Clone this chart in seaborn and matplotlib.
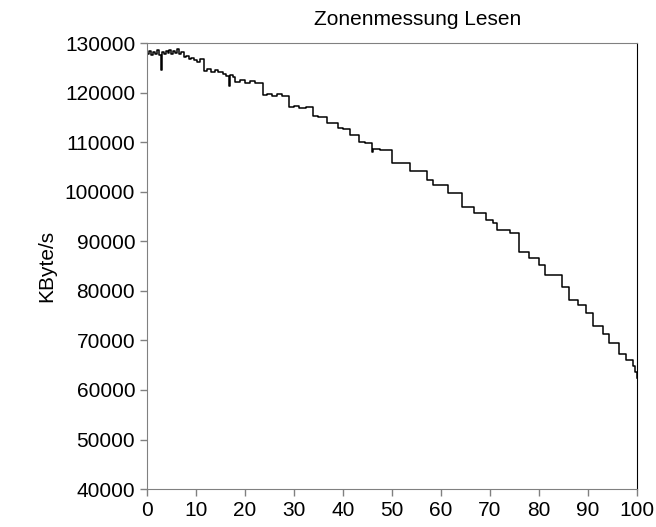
import matplotlib
matplotlib.use('Agg')
import matplotlib.pyplot as plt
import seaborn as sns
import pandas as pd

# Zone read measurement: position on disk (%) vs. read rate (KByte/s)
positions = [0.0, 0.4, 0.8, 1.2, 1.6, 2.0, 2.4, 2.8, 3.0, 3.4, 3.8, 4.2, 4.6, 5.0,
             5.4, 5.8, 6.2, 6.6, 7.0, 7.5, 8.0, 8.5, 9.0, 9.7, 10.2, 10.8, 11.7,
             12.3, 13.0, 13.8, 14.6, 15.5, 16.2, 16.7, 16.9, 17.5, 18.0, 19.0, 20.0,
             21.0, 22.0, 23.6, 24.5, 25.5, 26.5, 27.5, 28.9, 30.0, 31.0, 32.5,
             33.9, 35.0, 36.7, 38.9, 40.0, 41.4, 43.3, 44.5, 45.9, 46.1, 47.5, 50.0,
             53.7, 57.1, 58.4, 61.4, 64.3, 66.7, 69.2, 70.6, 71.4, 74.0, 75.9,
             78.0, 80.0, 81.2, 84.7, 86.1, 88.0, 89.6, 91.0, 93.0, 94.3, 96.3,
             97.7, 99.2, 99.6, 100.0]
kbytes = [127800, 128400, 127600, 128300, 127900, 128600, 127700, 124500, 128200,
          127800, 128500, 128000, 128700, 127900, 128400, 128100, 128800, 127800,
          128300, 127200, 127500, 126900, 127100, 126600, 126300, 126800, 124400,
          124800, 124200, 124600, 124100, 123700, 123400, 121300, 123600, 123200,
          122100, 122500, 121900, 122300, 121900, 119500, 119800, 119300, 119700,
          119300, 117100, 117400, 116900, 117200, 115300, 115100, 113800, 112800,
          112600, 111500, 110000, 109800, 108100, 108700, 108500, 105900, 104300,
          102400, 101400, 99700, 96900, 95800, 94300, 93800, 92200, 91600, 87900,
          86700, 85200, 83200, 80700, 78200, 77200, 75500, 72900, 71300, 69400,
          67300, 66100, 64800, 63600, 62500]

df = pd.DataFrame({'position': positions, 'kbytes': kbytes})

plt.rcParams['font.family'] = ['Liberation Sans', 'DejaVu Sans']
plt.rcParams['font.size'] = 15

fig = plt.figure(figsize=(6.56, 5.27), dpi=100)
ax = fig.add_axes([0.224, 0.072, 0.747, 0.846])
sns.lineplot(x='position', y='kbytes', data=df, drawstyle='steps-post',
             color='black', linewidth=1.1, ax=ax)

ax.set_xlim(0, 100)
ax.set_ylim(40000, 130000)
ax.set_xticks(range(0, 101, 10))
ax.set_yticks(range(40000, 130001, 10000))
ax.set_title('Zonenmessung Lesen', fontsize=15, x=0.553, pad=13)
ax.set_xlabel('')
ax.set_ylabel('KByte/s', fontsize=15, labelpad=6)

for side in ['left', 'bottom', 'top']:
    ax.spines[side].set_color('#808080')
ax.spines['right'].set_color('black')
ax.tick_params(axis='both', colors='#808080', labelcolor='black', labelsize=15,
               length=5, width=1)

fig.savefig('out.png', dpi=100)
